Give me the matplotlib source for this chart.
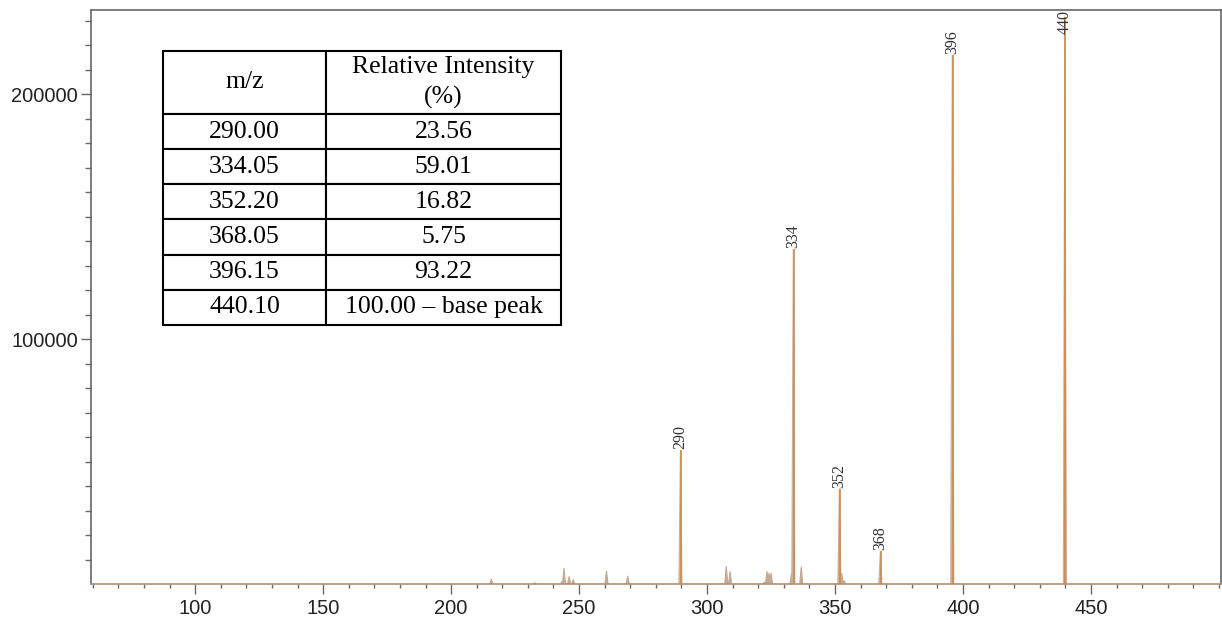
import matplotlib
matplotlib.use("Agg")
import matplotlib.pyplot as plt
from matplotlib.ticker import FixedLocator, MultipleLocator, FuncFormatter

# ---- data -------------------------------------------------------------
major_mz = [289.6, 333.7, 351.7, 367.7, 395.8, 439.8]
major_int = [54560, 136700, 38950, 13320, 215900, 231600]
major_labels = ["290", "334", "352", "368", "396", "440"]

minor_mz = [215.7, 232.7, 243.3, 244.1, 246.1, 247.7, 260.7, 269.0,
            307.5, 309.0, 322.4, 323.4, 324.2, 325.0, 333.0, 336.8,
            352.6, 353.5]
minor_int = [2000, 500, 1000, 6500, 3100, 1800, 5400, 3300,
             7300, 5200, 800, 5200, 4500, 4500, 4400, 7100,
             4500, 1500]

table_header = ["m/z", "Relative Intensity\n(%)"]
table_mz = ["290.00", "334.05", "352.20", "368.05", "396.15", "440.10"]
table_rel = ["23.56", "59.01", "16.82", "5.75", "93.22", "100.00 \u2013 base peak"]

x_major_ticks = [100, 150, 200, 250, 300, 350, 400, 450]
y_major_ticks = [100000, 200000]

# ---- figure -----------------------------------------------------------
fig = plt.figure(figsize=(12.22, 6.22), dpi=100)
ax = fig.add_axes([91 / 1222, 38 / 622, 1130 / 1222, 574 / 622])

xlim = (59.3, 500.8)
ylim = (0, 234300)
ax.set_xlim(*xlim)
ax.set_ylim(*ylim)

prof_col = "#c9b3a0"
cent_col = "#cf8a4e"
hw = 0.6

for m, h in zip(minor_mz, minor_int):
    ax.fill([m - hw, m, m + hw], [0, h, 0], color="#c4aa94", lw=0.8,
            edgecolor="#c4aa94", zorder=2)

for m, h in zip(major_mz, major_int):
    ax.fill([m - hw, m, m + hw], [0, h, 0], color=prof_col, lw=0.8,
            edgecolor=prof_col, zorder=2)
    ax.vlines(m + 0.15, 0, h, color=cent_col, lw=1.2, zorder=3)

for m, h, lab in zip(major_mz, major_int, major_labels):
    if h > 0.97 * ylim[1] - 10000:
        ax.text(m, ylim[1], lab, rotation=90, ha="center", va="top",
                family="Liberation Serif", fontsize=11.5, color="#333333",
                zorder=4)
    else:
        ax.text(m, h + 400, lab, rotation=90, ha="center", va="bottom",
                family="Liberation Serif", fontsize=11.5, color="#333333",
                zorder=4)

# ---- axes styling -----------------------------------------------------
for s in ["left", "top", "right"]:
    ax.spines[s].set_color("#666666")
    ax.spines[s].set_linewidth(1.2)
ax.spines["bottom"].set_color("#b08f74")
ax.spines["bottom"].set_linewidth(1.2)

ax.xaxis.set_major_locator(FixedLocator(x_major_ticks))
ax.xaxis.set_minor_locator(MultipleLocator(10))
ax.yaxis.set_major_locator(FixedLocator(y_major_ticks))
ax.yaxis.set_minor_locator(FixedLocator([v for v in range(10000, 234000, 10000)
                                         if v not in y_major_ticks]))
ax.yaxis.set_major_formatter(FuncFormatter(lambda v, p: f"{int(v)}"))

ax.tick_params(axis="x", which="major", length=7.2, width=1, color="#666666",
               labelsize=14.5, pad=3.5, labelcolor="#222222")
ax.tick_params(axis="x", which="minor", length=3, width=1, color="#666666")
ax.tick_params(axis="y", which="major", length=7.2, width=1, color="#666666",
               labelsize=14.5, pad=2, labelcolor="#222222")
ax.tick_params(axis="y", which="minor", length=4, width=1, color="#666666")
for lab in ax.get_xticklabels() + ax.get_yticklabels():
    lab.set_family("Liberation Sans")

# ---- table ------------------------------------------------------------
cell_text = [[a, b] for a, b in zip(table_mz, table_rel)]
tl = (163 - 91) / 1130
tw = (561 - 163) / 1130
tb = (584 - 325) / 574
th = (325 - 51) / 574
tab = ax.table(cellText=cell_text, colLabels=table_header,
               colWidths=[163, 235], cellLoc="center",
               bbox=[tl, tb, tw, th], zorder=5)
tab.auto_set_font_size(False)
cells = tab.get_celld()
base_h = cells[(1, 0)].get_height()
for (r, c), cell in cells.items():
    cell.set_linewidth(1.5)
    cell.set_edgecolor("black")
    cell.get_text().set_fontfamily("Liberation Serif")
    cell.get_text().set_fontsize(18.5)
    if r == 0:
        cell.set_height(base_h * 63 / 35.2)
        cell.get_text().set_linespacing(1.45)

fig.savefig("out.png", dpi=100)
